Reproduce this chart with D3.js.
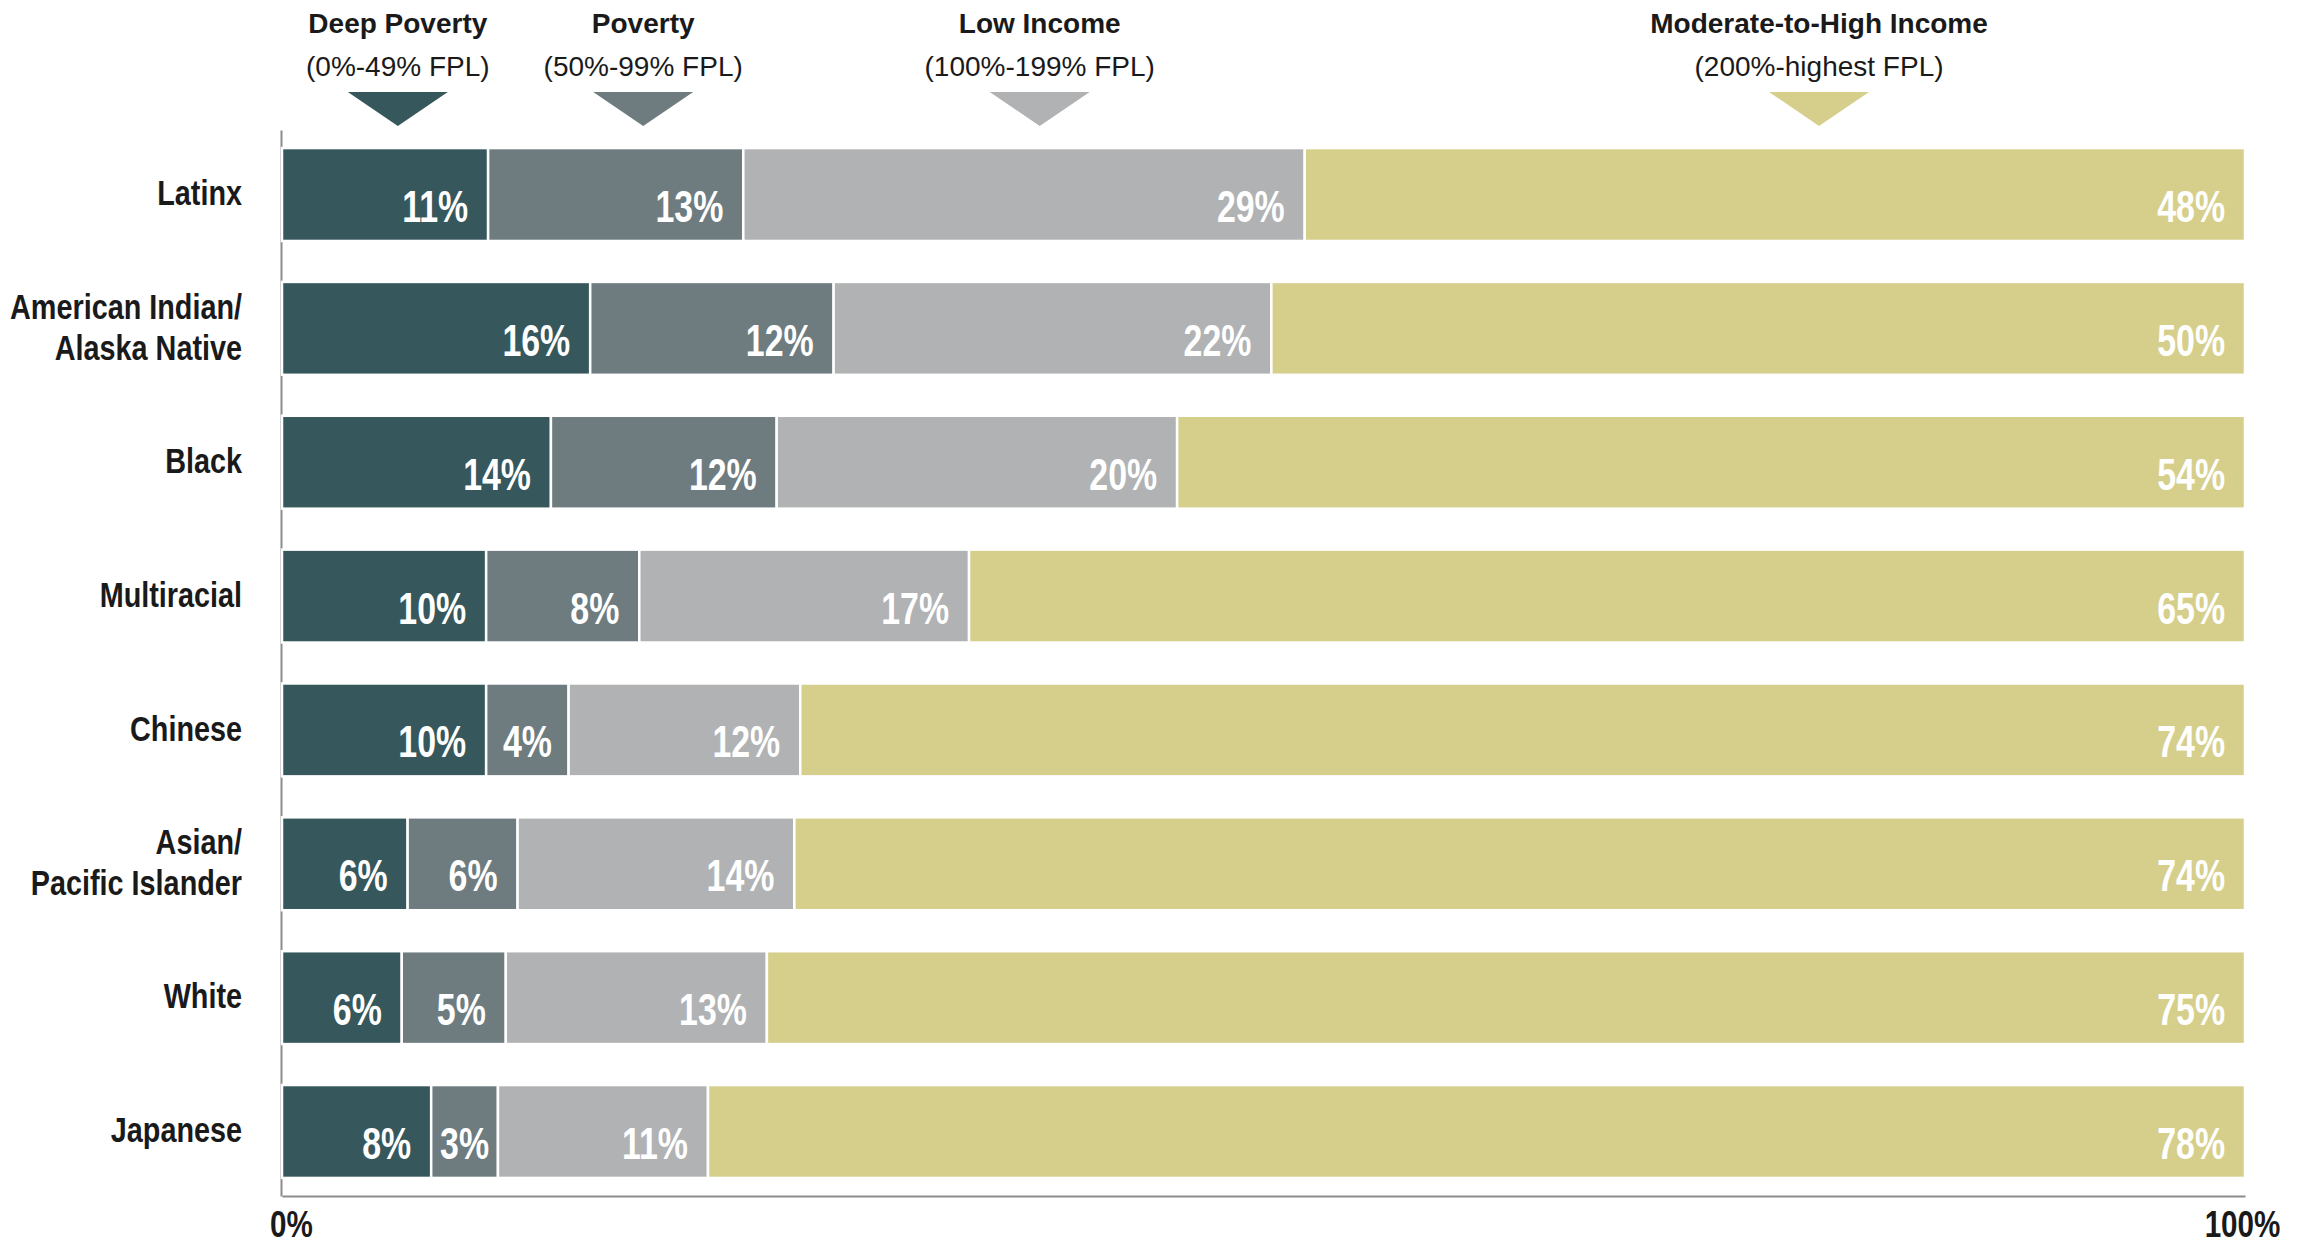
<!DOCTYPE html>
<html>
<head>
<meta charset="utf-8">
<script src="https://cdn.jsdelivr.net/npm/d3@7"></script>
<style>
  body { margin: 0; background: #fff; }
  .narrow { font-family: "Liberation Sans", Arial, sans-serif; font-weight: bold; }
  .head { font-family: "Liberation Sans", Arial, sans-serif; }
</style>
</head>
<body>
<script>
// data (shares in %; labels are these rounded)
const categories = ["Latinx", "American Indian/\nAlaska Native", "Black", "Multiracial", "Chinese", "Asian/\nPacific Islander", "White", "Japanese"];
const levels = ["Deep Poverty", "Poverty", "Low Income", "Moderate-to-High Income"];
const levelRanges = ["(0%-49% FPL)", "(50%-99% FPL)", "(100%-199% FPL)", "(200%-highest FPL)"];
const deepPoverty = [10.5, 15.7, 13.7, 10.4, 10.4, 6.4, 6.1, 7.6];
const poverty = [13.0, 12.4, 11.5, 7.8, 4.2, 5.6, 5.3, 3.4];
const lowIncome = [28.6, 22.3, 20.4, 16.8, 11.8, 14.1, 13.3, 10.7];
const modHigh = [47.9, 49.6, 54.4, 65.0, 73.6, 73.9, 75.3, 78.3];
const axisTicks = [0, 100];

const colors = ["#36575b", "#6e7c80", "#b1b2b4", "#d6cf8c"];
// where the legend markers sit along the x axis (%)
const markerAt = [5.9, 18.4, 38.6, 78.3];
// no narrow font installed, so squeeze Liberation Sans Bold instead
const SQ = 0.8;

const keys = ["deep", "pov", "low", "mod"];
const rows = categories.map((c, i) => ({
  cat: c, deep: deepPoverty[i], pov: poverty[i], low: lowIncome[i], mod: modHigh[i]
}));

const width = 2301, height = 1246;

const svg = d3.select("body").append("svg")
  .attr("width", width)
  .attr("height", height);

const x = d3.scaleLinear().domain([0, 100]).range([282, 2245]);
const y = d3.scaleBand()
  .domain(categories)
  .range([130, 1196])
  .paddingInner(0.306)
  .paddingOuter(0.135);

// left axis (line + category labels)
const yAxis = svg.append("g")
  .attr("transform", "translate(281,0)")
  .call(d3.axisLeft(y).tickSize(0).tickSizeOuter(0).tickPadding(39));
yAxis.select(".domain").attr("stroke", "#8c8c8c").attr("stroke-width", 2);
yAxis.selectAll(".tick text")
  .attr("class", "narrow")
  .style("font-size", "36px")
  .attr("fill", "#1a1a1a")
  .attr("transform", "scale(" + SQ + ",1)")
  .each(function (d) {
    const lines = d.split("\n");
    const t = d3.select(this).text(null);
    const lh = 41;
    lines.forEach((ln, j) => {
      t.append("tspan")
        .attr("x", -39 / SQ)
        .attr("dy", j === 0 ? (0.3 * 36 - (lines.length - 1) * lh / 2) : lh)
        .text(ln);
    });
  })
  .attr("dy", null);

// bottom axis
const xAxis = svg.append("g")
  .attr("transform", "translate(0,1196)")
  .call(d3.axisBottom(x).tickValues(axisTicks).tickFormat(d => d + "%").tickSize(0).tickSizeOuter(0).tickPadding(15));
xAxis.select(".domain").attr("stroke", "#8c8c8c").attr("stroke-width", 2);
xAxis.selectAll(".tick text")
  .attr("class", "narrow")
  .style("font-size", "37px")
  .attr("fill", "#1a1a1a")
  .attr("transform", "scale(" + SQ + ",1)")
  .attr("dx", (d) => (d === 0 ? 9 : -3) / SQ);

// stacked bars
const series = d3.stack().keys(keys)(rows);

const groups = svg.append("g").selectAll("g")
  .data(series)
  .join("g")
  .attr("fill", (d, i) => colors[i]);

groups.selectAll("rect")
  .data(d => d)
  .join("rect")
  .attr("x", d => x(d[0]))
  .attr("y", d => y(d.data.cat))
  .attr("width", d => x(d[1]) - x(d[0]))
  .attr("height", y.bandwidth())
  .attr("stroke", "#fff")
  .attr("stroke-width", 2.5);

const LSQ = 0.77;
groups.each(function (s) {
  d3.select(this).selectAll("text")
    .data(s)
    .join("text")
    .attr("class", "narrow")
    .style("font-size", "44px")
    .attr("fill", "#fff")
    .attr("text-anchor", "end")
    .text(d => Math.round(d.data[s.key]) + "%")
    .attr("transform", function (d) {
      // right aligned with a 20px gap, less if the segment is too narrow
      const w = this.getComputedTextLength() * LSQ;
      const seg = x(d[1]) - x(d[0]);
      const pad = Math.min(20, Math.max(4, (seg - w) / 2));
      return "translate(" + (x(d[1]) - pad) + "," + (y(d.data.cat) + y.bandwidth() - 19) + ") scale(" + LSQ + ",1)";
    });
});

// legend header
const legend = svg.append("g").selectAll("g")
  .data(levels)
  .join("g")
  .attr("transform", (d, i) => "translate(" + x(markerAt[i]) + ",0)");

legend.append("text")
  .attr("class", "head")
  .attr("text-anchor", "middle")
  .attr("y", 33)
  .style("font-size", "28px")
  .style("font-weight", "bold")
  .attr("fill", "#1a1a1a")
  .text(d => d);

legend.append("text")
  .attr("class", "head")
  .attr("text-anchor", "middle")
  .attr("y", 76)
  .style("font-size", "28px")
  .attr("fill", "#1a1a1a")
  .text((d, i) => levelRanges[i]);

legend.append("path")
  .attr("d", "M-50,92L50,92L0,126Z")
  .attr("fill", (d, i) => colors[i]);
</script>
</body>
</html>
